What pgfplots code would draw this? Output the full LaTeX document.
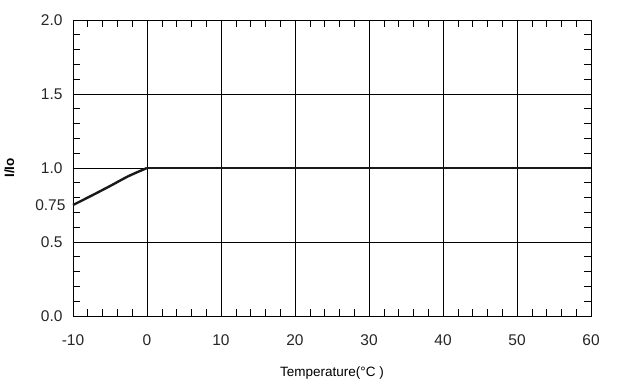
\documentclass[border=0pt]{standalone}
\usepackage{fontspec}
\setmainfont{Liberation Sans}
\usepackage{pgfplots}
\pgfplotsset{compat=1.18}
\begin{document}
\begin{tikzpicture}[x=1pt,y=1pt]
\begin{axis}[
  scale only axis,
  width=518pt, height=296pt,
  xmin=-10, xmax=60, ymin=0, ymax=2,
  xtick={-10,0,...,60},
  ytick={0,0.5,1,1.5,2},
  yticklabels={0.0,0.5,1.0,1.5,2.0},
  extra y ticks={0.75},
  extra y tick labels={0.75},
  extra y tick style={grid=none, major tick length=0pt, yticklabel style={xshift=3pt}},
  minor xtick={-8,-6,...,58},
  minor ytick={0.1,0.2,...,1.95},
  grid=major,
  major grid style={black, line width=0.7pt},
  major tick length=0pt,
  minor tick length=7pt,
  tick align=inside,
  tick style={black, line width=0.6pt},
  axis line style={black, line width=0.8pt},
  /pgf/number format/assume math mode=true,
  tick label style={font=\fontsize{15.5}{17}\selectfont, text=black!85},
  xticklabel style={yshift=-15pt},
  yticklabel style={xshift=-7pt},
  xlabel={Temperature(°C )},
  ylabel={I/Io},
  xlabel style={font=\fontsize{13.5}{15}\selectfont, yshift=-14pt},
  ylabel style={font=\fontsize{13.5}{15}\selectfont\bfseries, yshift=14pt},
  clip=false,
]
\addplot[black!90, line width=2.4pt, smooth] coordinates {
  (-10,0.75) (-7.5,0.813) (-5,0.878) (-2.5,0.945) (0,1.0)
};
\addplot[black!90, line width=2.4pt] coordinates {
  (0,1.0) (60,1.0)
};
\end{axis}
\path[use as bounding box] ([xshift=-73pt,yshift=-76pt]current axis.south west) rectangle ([xshift=28pt,yshift=20pt]current axis.north east);
\end{tikzpicture}
\end{document}
